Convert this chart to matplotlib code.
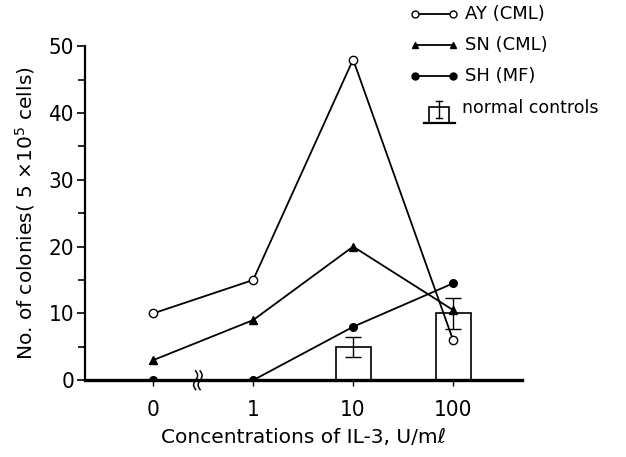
import numpy as np
import matplotlib.pyplot as plt
from matplotlib.lines import Line2D

# --------------------------------------------------
# Data
# --------------------------------------------------
conc_labels = ["0", "1", "10", "100"]
ay_cml = [10, 15, 48, 6]
sn_cml = [3, 9, 20, 10.5]
sh_mf = [0, 0, 8, 14.5]
ctrl_pos = [2, 3]
ctrl_mean = [5, 10]
ctrl_err = [1.5, 2.3]

plt.rcParams["font.family"] = ["DejaVu Sans"]

fig = plt.figure(figsize=(6.26, 4.57), dpi=100)
ax = fig.add_axes([0.136, 0.168, 0.698, 0.731])

x = np.arange(len(conc_labels))

# normal controls bars
ax.bar(ctrl_pos, ctrl_mean, width=0.35, facecolor="white", edgecolor="black",
       linewidth=1.2, zorder=2)
ax.errorbar(ctrl_pos, ctrl_mean, yerr=ctrl_err, fmt="none", ecolor="black",
            elinewidth=1.0, capsize=6, capthick=1.0, zorder=3)

ax.plot(x, ay_cml, color="black", lw=1.3, marker="o", ms=6,
        mfc="white", mec="black", zorder=4)
ax.plot(x, sn_cml, color="black", lw=1.3, marker="^", ms=6,
        mfc="black", mec="black", zorder=4)
ax.plot(x, sh_mf, color="black", lw=1.3, marker="o", ms=5.5,
        mfc="black", mec="black", zorder=4)

ax.set_xlim(-0.68, 3.69)
ax.set_ylim(0, 50)
ax.set_xticks(x)
ax.set_xticklabels(conc_labels)
ax.set_yticks(np.arange(0, 51, 10))
ax.set_yticks(np.arange(5, 50, 10), minor=True)
for lab in ax.get_xticklabels() + ax.get_yticklabels():
    lab.set_fontstretch("condensed")
    lab.set_fontsize(16)
ax.tick_params(axis="y", which="major", length=6, width=1.2, pad=2)
ax.tick_params(axis="y", which="minor", length=5, width=1.2)
ax.tick_params(axis="x", length=4, width=1.0, pad=10)

for s in ["top", "right"]:
    ax.spines[s].set_visible(False)
ax.spines["left"].set_linewidth(1.6)
ax.spines["bottom"].set_linewidth(2.4)

# axis break between 0 and 1
t = np.linspace(-1, 1, 20)
for off in (0.425, 0.47):
    ax.plot(off + 0.02 * np.sin(t * np.pi), 1.4 * t, color="black", lw=1.1,
            clip_on=False, zorder=5)

ax.set_xlabel("Concentrations of IL-3, U/m\u2113", fontsize=14.5, labelpad=6)
ax.set_ylabel(r"No. of colonies( 5 $\times$10$^5$ cells)", fontsize=14.5,
              labelpad=8)

# legend drawn at the upper right
leg_x0, leg_x1, txt_x = 0.663, 0.724, 0.743
rows = [(0.969, "o", "white", "AY (CML)"),
        (0.901, "^", "black", "SN (CML)"),
        (0.834, "o", "black", "SH (MF)")]
for y, mk, fc, lab in rows:
    fig.add_artist(Line2D([leg_x0, leg_x1], [y, y], color="black", lw=1.3,
                          marker=mk, ms=5, mfc=fc, mec="black"))
    fig.text(txt_x, y, lab, fontsize=13, va="center")

yb = 0.730
fig.add_artist(plt.Rectangle((0.685, yb), 0.033, 0.036, fill=False,
                             ec="black", lw=1.2))
fig.add_artist(Line2D([0.677, 0.727], [yb, yb], color="black", lw=1.6))
fig.add_artist(Line2D([0.7015, 0.7015], [yb + 0.012, yb + 0.048],
                      color="black", lw=1.0))
fig.add_artist(Line2D([0.697, 0.706], [yb + 0.048, yb + 0.048],
                      color="black", lw=1.0))
fig.add_artist(Line2D([0.697, 0.706], [yb + 0.012, yb + 0.012],
                      color="black", lw=1.0))
fig.text(0.738, 0.763, "normal controls", fontsize=12.5, va="center")

plt.savefig("out.png", dpi=100)
